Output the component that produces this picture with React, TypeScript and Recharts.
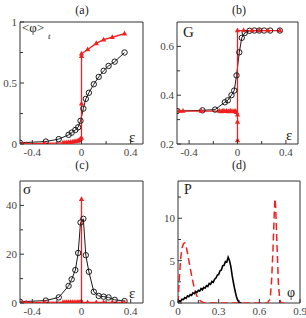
import { LineChart, Line, XAxis, YAxis, ReferenceArea } from "recharts";

// control parameter sweep (circles)
const EPS = [-0.5, -0.29, -0.185, -0.105, -0.08, -0.05, -0.027, -0.008, 0.015, 0.035, 0.06, 0.1, 0.14, 0.18, 0.22, 0.27, 0.35];
const PHI_MEAN = [0.01, 0.02, 0.04, 0.075, 0.093, 0.115, 0.137, 0.19, 0.29, 0.37, 0.42, 0.49, 0.55, 0.6, 0.64, 0.675, 0.75];
const G_MEAN = [0.335, 0.338, 0.341, 0.371, 0.379, 0.4, 0.419, 0.481, 0.576, 0.635, 0.655, 0.664, 0.665, 0.665, 0.665, 0.665, 0.665];
const SIGMA = [0.5, 1, 2.3, 7, 9.7, 13.5, 20.5, 33, 34.5, 19.6, 12.8, 4.6, 2.9, 2.6, 2.3, 1.3, 0.8];

// second sweep (triangles), several samples at eps = 0 across the jump
const EPS_R = [-0.48, -0.45, -0.3, -0.15, -0.135, -0.12, -0.105, -0.09, -0.075, -0.06, -0.045, -0.03, -0.02, -0.01, 0, 0, 0, 0, 0.05, 0.12, 0.18, 0.25, 0.35];
const PHI_MEAN_R = [0, 0, 0.005, 0.01, 0.01, 0.012, 0.013, 0.015, 0.017, 0.02, 0.022, 0.025, 0.03, 0.04, 0.05, 0.33, 0.72, 0.74, 0.775, 0.825, 0.855, 0.875, 0.905];
const G_MEAN_R = [0.335, 0.335, 0.335, 0.335, 0.333, 0.336, 0.334, 0.335, 0.333, 0.336, 0.334, 0.333, 0.335, 0.33, 0.32, 0.29, 0.215, 0.665, 0.665, 0.665, 0.665, 0.665, 0.665];
const SIGMA_R = [0.2, 0.2, 0.2, 0.3, 0.3, 0.3, 0.3, 0.3, 0.3, 0.3, 0.3, 0.3, 0.3, 0.3, 0.5, 42.5, 0.5, 0.3, 0.2, 0.2, 0.2, 0.2, 0.2];

// distributions P(phi)
const PHI_B = [0, 0.01, 0.02, 0.03, 0.04, 0.05, 0.06, 0.07, 0.08, 0.09, 0.1, 0.11, 0.12, 0.13, 0.14, 0.15, 0.16, 0.17, 0.18, 0.19, 0.2, 0.21, 0.22, 0.23, 0.24, 0.25, 0.26, 0.27, 0.28, 0.29, 0.3, 0.31, 0.32, 0.33, 0.34, 0.35, 0.36, 0.37, 0.38, 0.39, 0.4, 0.41, 0.42, 0.43, 0.44, 0.45, 0.46, 0.47];
const P_B = [0.05, 0.25, 0.2, 0.45, 0.4, 0.65, 0.55, 0.85, 0.75, 1.0, 0.9, 1.2, 1.1, 1.35, 1.25, 1.5, 1.4, 1.7, 1.55, 1.85, 1.75, 2.05, 1.95, 2.3, 2.2, 2.55, 2.45, 2.8, 2.95, 3.3, 3.35, 3.8, 3.9, 4.4, 4.45, 4.9, 4.85, 5.4, 5.0, 4.3, 3.2, 2.3, 1.5, 0.8, 0.35, 0.1, 0, 0];
const PHI_R = [0, 0.01, 0.02, 0.03, 0.04, 0.05, 0.06, 0.07, 0.08, 0.09, 0.1, 0.11, 0.12, 0.13, 0.14, 0.15, 0.16, 0.18, 0.2, 0.3, 0.4, 0.5, 0.6, 0.66, 0.68, 0.69, 0.7, 0.71, 0.715, 0.72, 0.73, 0.74, 0.75, 0.76, 0.8];
const P_R = [0, 3.0, 5.3, 6.5, 7.0, 7.1, 6.7, 5.9, 5.0, 4.1, 3.3, 2.5, 1.8, 1.2, 0.8, 0.5, 0.3, 0.1, 0, 0, 0, 0, 0, 0, 0.5, 2.5, 6, 10.5, 12.3, 11.5, 7, 2.5, 0.5, 0, 0];

const FONT = "Liberation Serif, Times New Roman, serif";
const INK = "#333";
const BLACK = "#1a1a1a";
const RED = "#f02020";

const rows = (xs: number[], ys: number[]) => xs.map((x, i) => ({ x, y: ys[i] }));

const Triangle = (props: any) => {
  const { cx, cy } = props;
  if (cx == null || cy == null) return <g key={props.key} />;
  return (
    <polygon
      key={props.key}
      points={`${cx},${cy - 3} ${cx - 2.6},${cy + 1.8} ${cx + 2.6},${cy + 1.8}`}
      fill={RED}
    />
  );
};

const circle = { r: 2.7, fill: "none", stroke: BLACK, strokeWidth: 1 };

// inward ticks; only values listed in labels get text
const xTick = (labels: Record<string, string>) => (props: any) => {
  const { x, y, payload } = props;
  const label = labels[String(payload.value)];
  return (
    <g>
      <line x1={x} x2={x} y1={y} y2={y - (label ? 4 : 3)} stroke={INK} />
      {label && (
        <text x={x} y={y + 12} textAnchor="middle" fontSize={11} fill="#444" style={{ fontFamily: FONT }}>
          {label}
        </text>
      )}
    </g>
  );
};

const yTick = (labels: Record<string, string>) => (props: any) => {
  const { x, y, payload } = props;
  const label = labels[String(payload.value)];
  return (
    <g>
      <line x1={x} x2={x + (label ? 4 : 3)} y1={y} y2={y} stroke={INK} />
      {label && (
        <text x={x - 3} y={y + 4} textAnchor="end" fontSize={11} fill="#444" style={{ fontFamily: FONT }}>
          {label}
        </text>
      )}
    </g>
  );
};

const EPS_TICKS = [-0.4, -0.2, 0, 0.2, 0.4];
const EPS_LABELS = { "-0.4": "-0.4", "0": "0", "0.4": "0.4" };

type PanelProps = {
  left: number;
  top: number;
  margin: { top: number; right: number; left: number; bottom: number };
  yWidth: number;
  xHeight: number;
  xDomain: [number, number];
  yDomain: [number, number];
  xTicks: number[];
  yTicks: number[];
  xLabels: Record<string, string>;
  yLabels: Record<string, string>;
  children: any;
};

function Panel(p: PanelProps) {
  return (
    <div style={{ position: "absolute", left: p.left, top: p.top }}>
      <LineChart width={153} height={160} margin={p.margin}>
        <XAxis
          dataKey="x"
          type="number"
          domain={p.xDomain}
          ticks={p.xTicks}
          interval={0}
          allowDataOverflow
          axisLine={false}
          tickLine={false}
          tickSize={0}
          tickMargin={0}
          height={p.xHeight}
          tick={xTick(p.xLabels)}
        />
        <YAxis
          dataKey="y"
          type="number"
          domain={p.yDomain}
          ticks={p.yTicks}
          interval={0}
          allowDataOverflow
          axisLine={false}
          tickLine={false}
          tickSize={0}
          tickMargin={0}
          width={p.yWidth}
          tick={yTick(p.yLabels)}
        />
        <ReferenceArea
          x1={p.xDomain[0]}
          x2={p.xDomain[1]}
          y1={p.yDomain[0]}
          y2={p.yDomain[1]}
          fill="none"
          stroke={INK}
          strokeWidth={1}
          fillOpacity={0}
        />
        {p.children}
      </LineChart>
    </div>
  );
}

const sweepLines = (blackY: number[], redY: number[]) => [
  <Line
    key="b"
    data={rows(EPS, blackY)}
    dataKey="y"
    stroke={BLACK}
    strokeWidth={1}
    dot={circle}
    isAnimationActive={false}
  />,
  <Line
    key="r"
    data={rows(EPS_R, redY)}
    dataKey="y"
    stroke={RED}
    strokeWidth={1.3}
    dot={Triangle}
    isAnimationActive={false}
  />,
];

export default function App() {
  return (
    <div style={{ position: "absolute", left: 0, top: 0, width: 306, height: 318, background: "#fff", overflow: "hidden" }}>
      <Panel
        left={0}
        top={0}
        margin={{ top: 22, right: 10, left: 0, bottom: 0 }}
        yWidth={20}
        xHeight={16}
        xDomain={[-0.5, 0.5]}
        yDomain={[0, 1]}
        xTicks={EPS_TICKS}
        yTicks={[0, 0.25, 0.5, 0.75, 1]}
        xLabels={EPS_LABELS}
        yLabels={{ "0": "0", "0.5": "0.5", "1": "1" }}
      >
        {sweepLines(PHI_MEAN, PHI_MEAN_R)}
      </Panel>
      <Panel
        left={153}
        top={0}
        margin={{ top: 22, right: 8, left: 0, bottom: 0 }}
        yWidth={24}
        xHeight={16}
        xDomain={[-0.5, 0.5]}
        yDomain={[0.2, 0.7]}
        xTicks={EPS_TICKS}
        yTicks={[0.2, 0.3, 0.4, 0.5, 0.6]}
        xLabels={EPS_LABELS}
        yLabels={{ "0.2": "0.2", "0.4": "0.4", "0.6": "0.6" }}
      >
        {sweepLines(G_MEAN, G_MEAN_R)}
      </Panel>
      <Panel
        left={0}
        top={158}
        margin={{ top: 23, right: 10, left: 0, bottom: 0 }}
        yWidth={20}
        xHeight={15}
        xDomain={[-0.5, 0.5]}
        yDomain={[0, 50]}
        xTicks={EPS_TICKS}
        yTicks={[0, 10, 20, 30, 40]}
        xLabels={EPS_LABELS}
        yLabels={{ "0": "0", "20": "20", "40": "40" }}
      >
        {sweepLines(SIGMA, SIGMA_R)}
      </Panel>
      <Panel
        left={153}
        top={158}
        margin={{ top: 23, right: 6, left: 0, bottom: 0 }}
        yWidth={25}
        xHeight={15}
        xDomain={[0, 0.9]}
        yDomain={[0, 14.4]}
        xTicks={[0, 0.15, 0.3, 0.45, 0.6, 0.75, 0.9]}
        yTicks={[0, 2.5, 5, 7.5, 10, 12.5]}
        xLabels={{ "0": "0", "0.3": "0.3", "0.6": "0.6", "0.9": "0.9" }}
        yLabels={{ "0": "0", "5": "5", "10": "10" }}
      >
        <Line
          data={rows(PHI_R, P_R)}
          dataKey="y"
          stroke={RED}
          strokeWidth={1.5}
          strokeDasharray="7 4"
          dot={false}
          isAnimationActive={false}
        />
        <Line
          data={rows(PHI_B, P_B)}
          dataKey="y"
          stroke="#000"
          strokeWidth={1.6}
          dot={false}
          isAnimationActive={false}
        />
      </Panel>

      {/* panel titles and axis symbols */}
      <svg width={306} height={318} style={{ position: "absolute", left: 0, top: 0, pointerEvents: "none", fontFamily: FONT }}>
        <g fill="#222">
          <text x={82} y={14} textAnchor="middle" fontSize={12}>(a)</text>
          <text x={239} y={14} textAnchor="middle" fontSize={12}>(b)</text>
          <text x={82} y={169} textAnchor="middle" fontSize={12}>(c)</text>
          <text x={239} y={169} textAnchor="middle" fontSize={12}>(d)</text>

          <text x={22} y={32} fontSize={13}>&lt;φ&gt;</text>
          <text x={48} y={39} fontSize={9} fontStyle="italic">t</text>
          <text x={129} y={142} fontSize={15}>ε</text>

          <text x={183} y={37} fontSize={15}>G</text>
          <text x={286} y={140} fontSize={15}>ε</text>

          <text x={23} y={194} fontSize={15}>σ</text>
          <text x={129} y={298} fontSize={15}>ε</text>

          <text x={184} y={194} fontSize={14}>P</text>
          <text x={287} y={297} fontSize={14}>φ</text>
        </g>
      </svg>
    </div>
  );
}
